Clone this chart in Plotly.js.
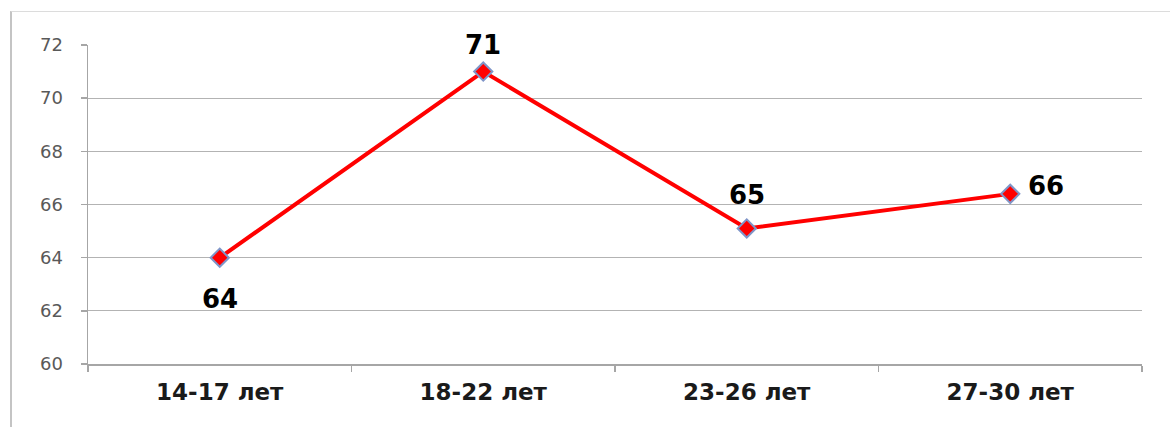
<!DOCTYPE html>
<html>
<head>
<meta charset="utf-8">
<script src="https://cdn.plot.ly/plotly-3.0.1.min.js"></script>
<style>
  html, body { margin: 0; padding: 0; background: #ffffff; }
  #frame {
    position: absolute; left: 10px; top: 11px; width: 1160px; height: 416px;
    border-left: 2px solid #c4c4c4; border-top: 1px solid #dcdcdc; box-sizing: border-box;
  }
  #chart { position: absolute; left: 0; top: 0; width: 1170px; height: 427px; }
</style>
</head>
<body>
<div id="frame"></div>
<div id="chart"></div>
<script>
// Age groups and their scores
const ageGroups = ['14-17 лет', '18-22 лет', '23-26 лет', '27-30 лет'];
const scores = [64, 71, 65.1, 66.4];
const yTicks = [60, 62, 64, 66, 68, 70, 72];

// Where each value label sits relative to its point (pixels)
const labelPlacement = [
  { dx: 0, dy: -41 },
  { dx: 0, dy: 27 },
  { dx: 0, dy: 33 },
  { dx: 36, dy: 8 }
];

const trace = {
  type: 'scatter',
  mode: 'lines+markers',
  x: ageGroups,
  y: scores,
  line: { color: '#ff0000', width: 4 },
  marker: {
    symbol: 'diamond',
    size: 14,
    color: '#ff0000',
    line: { color: '#7f95c8', width: 2 }
  },
  hoverinfo: 'x+y'
};

const annotations = ageGroups.map((g, i) => ({
  x: g,
  y: scores[i],
  xref: 'x',
  yref: 'y',
  text: String(Math.round(scores[i])),
  showarrow: false,
  xanchor: 'center',
  yanchor: 'middle',
  xshift: labelPlacement[i].dx,
  yshift: labelPlacement[i].dy,
  font: { family: 'DejaVu Sans', size: 26, color: '#000000', weight: 'bold' }
}));

const layout = {
  width: 1170,
  height: 427,
  margin: { l: 88, r: 28, t: 45, b: 63 },
  paper_bgcolor: 'rgba(0,0,0,0)',
  plot_bgcolor: 'rgba(0,0,0,0)',
  showlegend: false,
  xaxis: {
    type: 'category',
    range: [-0.5, 3.5],
    showgrid: false,
    showline: true,
    linecolor: '#a6a6a6',
    linewidth: 1.5,
    ticks: 'outside',
    tickson: 'boundaries',
    ticklen: 6,
    tickcolor: '#a6a6a6',
    tickwidth: 1.5,
    ticklabelstandoff: 7,
    tickfont: { family: 'DejaVu Sans', size: 23, color: '#1a1a1a', weight: 'bold' },
    zeroline: false,
    fixedrange: true
  },
  yaxis: {
    range: [60, 72],
    tickvals: yTicks,
    ticktext: yTicks.map(String),
    showgrid: true,
    gridcolor: '#b3b3b3',
    gridwidth: 1,
    showline: true,
    linecolor: '#a6a6a6',
    linewidth: 1.5,
    ticks: 'outside',
    ticklen: 6,
    tickcolor: '#a6a6a6',
    tickwidth: 1.5,
    ticklabelstandoff: 14,
    tickfont: { family: 'DejaVu Sans', size: 18, color: '#595959' },
    zeroline: false,
    fixedrange: true
  },
  annotations: annotations
};

Plotly.newPlot('chart', [trace], layout, { displayModeBar: false, staticPlot: true });
</script>
</body>
</html>
